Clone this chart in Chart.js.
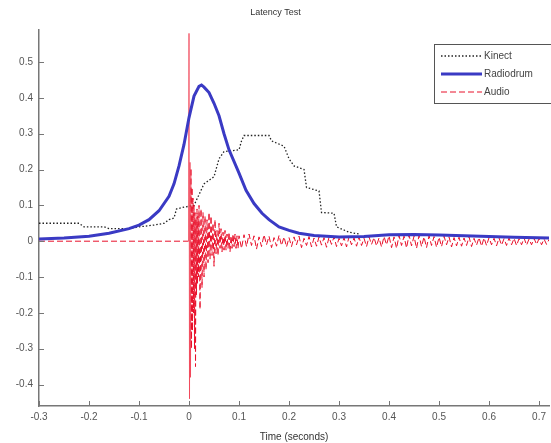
<!DOCTYPE html>
<html>
<head>
<meta charset="utf-8">
<script src="https://cdn.jsdelivr.net/npm/chart.js@4.4.0/dist/chart.umd.min.js"></script>
<style>
  html, body { margin: 0; padding: 0; background: #fff; }
  #wrap { width: 551px; height: 443px; }
</style>
</head>
<body>
<div id="wrap"><canvas id="latencyChart" width="551" height="443"></canvas></div>
<script>
// Kinect (dotted)
const kinectTime = [-0.3, -0.22, -0.21, -0.17, -0.16, -0.12, -0.1, -0.07, -0.05, -0.04, -0.03, -0.025, -0.01, 0.01,
    0.02, 0.03, 0.04, 0.05, 0.06, 0.07, 0.1, 0.105, 0.11, 0.16, 0.165, 0.19, 0.2, 0.21, 0.23, 0.235,
    0.26, 0.265, 0.29, 0.295, 0.32, 0.34];
const kinectValue = [0.05, 0.05, 0.04, 0.04, 0.035, 0.035, 0.04, 0.045, 0.05, 0.06, 0.065, 0.09, 0.095, 0.1,
    0.13, 0.16, 0.17, 0.18, 0.23, 0.25, 0.255, 0.28, 0.295, 0.295, 0.28, 0.265, 0.23, 0.21, 0.2, 0.15,
    0.14, 0.08, 0.078, 0.04, 0.025, 0.02];

// Radiodrum (solid blue)
const radioTime = [-0.3, -0.25, -0.2, -0.16, -0.12, -0.1, -0.08, -0.06, -0.04, -0.03, -0.02, -0.01, 0, 0.01,
    0.02, 0.025, 0.03, 0.04, 0.05, 0.06, 0.07, 0.08, 0.1, 0.114, 0.13, 0.146, 0.16, 0.18, 0.2, 0.22,
    0.25, 0.3, 0.35, 0.4, 0.45, 0.5, 0.55, 0.6, 0.65, 0.72];
const radioValue = [0.006, 0.009, 0.014, 0.022, 0.035, 0.045, 0.06, 0.085, 0.125, 0.16, 0.21, 0.27, 0.345, 0.405,
    0.432, 0.436, 0.43, 0.415, 0.385, 0.35, 0.3, 0.255, 0.19, 0.142, 0.105, 0.078, 0.06, 0.04, 0.03, 0.022,
    0.016, 0.012, 0.013, 0.018, 0.019, 0.017, 0.015, 0.013, 0.011, 0.009];

// Audio (dashed red)
const audioTime = [-0.3, -0.001,
    0, 0.001, 0.002, 0.003, 0.004, 0.005, 0.006, 0.007, 0.008, 0.009,
    0.01, 0.011, 0.012, 0.013, 0.014, 0.015, 0.016, 0.017, 0.018, 0.019,
    0.02, 0.022, 0.024, 0.026, 0.028, 0.03, 0.032, 0.034, 0.036, 0.038,
    0.04, 0.042, 0.044, 0.046, 0.048, 0.05, 0.052, 0.054, 0.056, 0.058,
    0.06, 0.062, 0.064, 0.066, 0.068, 0.07, 0.072, 0.074, 0.076, 0.078,
    0.08, 0.082, 0.084, 0.086, 0.088, 0.09, 0.092, 0.094, 0.096, 0.098,
    0.1, 0.105, 0.11, 0.115, 0.12, 0.125, 0.13, 0.135, 0.14, 0.145,
    0.15, 0.155, 0.16, 0.165, 0.17, 0.175, 0.18, 0.185, 0.19, 0.195,
    0.2, 0.205, 0.21, 0.215, 0.22, 0.225, 0.23, 0.235, 0.24, 0.245,
    0.25, 0.255, 0.26, 0.265, 0.27, 0.275, 0.28, 0.285, 0.29, 0.295,
    0.3, 0.305, 0.31, 0.315, 0.32, 0.325, 0.33, 0.335, 0.34, 0.345,
    0.35, 0.355, 0.36, 0.365, 0.37, 0.375, 0.38, 0.385, 0.39, 0.395,
    0.4, 0.405, 0.41, 0.415, 0.42, 0.425, 0.43, 0.435, 0.44, 0.445,
    0.45, 0.455, 0.46, 0.465, 0.47, 0.475, 0.48, 0.485, 0.49, 0.495,
    0.5, 0.505, 0.51, 0.515, 0.52, 0.525, 0.53, 0.535, 0.54, 0.545,
    0.55, 0.555, 0.56, 0.565, 0.57, 0.575, 0.58, 0.585, 0.59, 0.595,
    0.6, 0.605, 0.61, 0.615, 0.62, 0.625, 0.63, 0.635, 0.64, 0.645,
    0.65, 0.655, 0.66, 0.665, 0.67, 0.675, 0.68, 0.685, 0.69, 0.695,
    0.7, 0.705, 0.71, 0.715, 0.72];
const audioValue = [0, 0,
    0.58, -0.44, 0.22, -0.38, 0.2, -0.3, 0.15, -0.25, 0.12, -0.2,
    0.1, -0.3, 0.08, -0.35, 0.06, -0.15, 0.09, -0.12, 0.07, -0.1,
    0.1, -0.19, 0.09, -0.13, 0.08, -0.1, 0.07, -0.08, 0.06, -0.06,
    0.08, -0.05, 0.07, -0.04, 0.05, -0.07, 0.06, -0.035, 0.03, -0.04,
    0.05, -0.02, 0.035, -0.03, 0.025, -0.025, 0.03, -0.025, 0.02, -0.02,
    0.025, -0.03, 0.015, -0.02, 0.02, -0.015, 0.02, -0.02, 0.015, -0.02,
    0.015, -0.02, 0.018, -0.015, 0.02, -0.012, 0.015, -0.022, 0.012, -0.015,
    0.018, -0.01, 0.014, -0.018, 0.01, -0.014, 0.016, -0.012, 0.012, -0.016,
    0.01, -0.015, 0.012, -0.01, 0.014, -0.018, 0.008, -0.012, 0.013, -0.016,
    0.009, -0.014, 0.012, -0.011, 0.01, -0.017, 0.011, -0.009, 0.012, -0.015,
    0.008, -0.013, 0.01, -0.016, 0.012, -0.01, 0.009, -0.014, 0.011, -0.012,
    0.008, -0.015, 0.012, -0.009, 0.01, -0.013, 0.009, -0.016, 0.013, -0.01,
    0.015, -0.018, 0.012, -0.02, 0.016, -0.012, 0.014, -0.019, 0.017, -0.013,
    0.014, -0.02, 0.016, -0.015, 0.012, -0.018, 0.015, -0.012, 0.013, -0.017,
    0.011, -0.015, 0.014, -0.01, 0.012, -0.016, 0.01, -0.013, 0.011, -0.014,
    0.009, -0.012, 0.012, -0.015, 0.008, -0.011, 0.01, -0.014, 0.009, -0.012,
    0.01, -0.01, 0.008, -0.013, 0.009, -0.011, 0.007, -0.012, 0.009, -0.01,
    0.008, -0.012, 0.007, -0.01, 0.009, -0.011, 0.006, -0.01, 0.008, -0.009,
    0.007, -0.01, 0.006, -0.009, 0.005];

const xTicks = [-0.3, -0.2, -0.1, 0, 0.1, 0.2, 0.3, 0.4, 0.5, 0.6, 0.7];
const yTicks = [-0.4, -0.3, -0.2, -0.1, 0, 0.1, 0.2, 0.3, 0.4, 0.5];

const toPoints = (xs, ys) => xs.map((x, i) => ({ x: x, y: ys[i] }));

// Matlab style inward tick marks
const inwardTicks = {
    id: 'inwardTicks',
    afterDraw(chart) {
        const ctx = chart.ctx;
        const area = chart.chartArea;
        const xs = chart.scales.x, ys = chart.scales.y;
        ctx.save();
        ctx.strokeStyle = '#777';
        ctx.lineWidth = 1;
        ctx.beginPath();
        xTicks.forEach(v => {
            const px = Math.round(xs.getPixelForValue(v)) + 0.5;
            ctx.moveTo(px, area.bottom);
            ctx.lineTo(px, area.bottom - 5);
        });
        yTicks.forEach(v => {
            const py = Math.round(ys.getPixelForValue(v)) + 0.5;
            ctx.moveTo(area.left, py);
            ctx.lineTo(area.left + 5, py);
        });
        ctx.stroke();
        ctx.restore();
    }
};

// boxed legend in the top right corner
const boxLegend = {
    id: 'boxLegend',
    afterDraw(chart) {
        const ctx = chart.ctx;
        const left = 434, top = 44, w = 130, rowH = 18;
        ctx.save();
        ctx.fillStyle = '#fff';
        ctx.fillRect(left, top, w, rowH * 3 + 5);
        ctx.strokeStyle = '#555';
        ctx.lineWidth = 1;
        ctx.strokeRect(left + 0.5, top + 0.5, w, rowH * 3 + 5);
        ctx.font = '10px "Liberation Sans", Arial, sans-serif';
        ctx.textBaseline = 'middle';
        chart.data.datasets.forEach((ds, i) => {
            const y = top + 12 + i * rowH;
            ctx.strokeStyle = ds.borderColor;
            ctx.lineWidth = ds.borderWidth;
            ctx.setLineDash(ds.borderDash || []);
            ctx.beginPath();
            ctx.moveTo(left + 7, y);
            ctx.lineTo(left + 48, y);
            ctx.stroke();
            ctx.setLineDash([]);
            ctx.fillStyle = '#444';
            ctx.fillText(ds.label, left + 50, y);
        });
        ctx.restore();
    }
};

new Chart(document.getElementById('latencyChart'), {
    type: 'line',
    data: {
        datasets: [{
            label: 'Kinect',
            data: toPoints(kinectTime, kinectValue),
            borderColor: '#222',
            borderWidth: 1.3,
            borderDash: [1.5, 2],
            pointRadius: 0,
            order: 3
        }, {
            label: 'Radiodrum',
            data: toPoints(radioTime, radioValue),
            borderColor: '#3a3ac4',
            borderWidth: 3,
            pointRadius: 0,
            order: 1
        }, {
            label: 'Audio',
            data: toPoints(audioTime, audioValue),
            borderColor: '#e8102a',
            borderWidth: 1,
            borderDash: [6, 3],
            pointRadius: 0,
            order: 2,
            segment: {
                // the big onset spike reads as a thin solid line
                borderDash: c => Math.abs(c.p1.parsed.y - c.p0.parsed.y) > 0.5 ? [] : undefined,
                borderColor: c => Math.abs(c.p1.parsed.y - c.p0.parsed.y) > 0.5 ? 'rgba(240,60,80,0.75)' : undefined
            }
        }]
    },
    options: {
        responsive: false,
        animation: false,
        layout: { padding: { top: 0, right: 0, bottom: 0, left: 0 } },
        plugins: {
            legend: { display: false },
            tooltip: { enabled: false },
            title: {
                display: true,
                text: 'Latency Test',
                color: '#333',
                font: { family: '"Liberation Sans", Arial, sans-serif', size: 9, weight: 'normal' },
                padding: { top: 7, bottom: 12 }
            }
        },
        scales: {
            x: {
                type: 'linear',
                min: -0.3,
                max: 0.72,
                afterFit(scale) { scale.height = 37; },
                afterBuildTicks(scale) { scale.ticks = xTicks.map(v => ({ value: v })); },
                grid: { display: false, drawTicks: false },
                border: { display: true, color: '#777', width: 1.5 },
                ticks: {
                    color: '#555',
                    padding: 5,
                    maxRotation: 0,
                    font: { family: '"Liberation Sans", Arial, sans-serif', size: 10 },
                    callback: v => String(Math.round(v * 10) / 10)
                },
                title: {
                    display: true,
                    text: 'Time (seconds)',
                    color: '#333',
                    padding: { top: 0, bottom: 0 },
                    font: { family: '"Liberation Sans", Arial, sans-serif', size: 10 }
                }
            },
            y: {
                type: 'linear',
                min: -0.46,
                max: 0.59,
                afterFit(scale) { scale.width = 39; },
                afterBuildTicks(scale) { scale.ticks = yTicks.map(v => ({ value: v })); },
                grid: { display: false, drawTicks: false },
                border: { display: true, color: '#777', width: 1.5 },
                ticks: {
                    color: '#555',
                    padding: 6,
                    font: { family: '"Liberation Sans", Arial, sans-serif', size: 10 },
                    callback: v => String(Math.round(v * 10) / 10)
                }
            }
        }
    },
    plugins: [inwardTicks, boxLegend]
});
</script>
</body>
</html>
